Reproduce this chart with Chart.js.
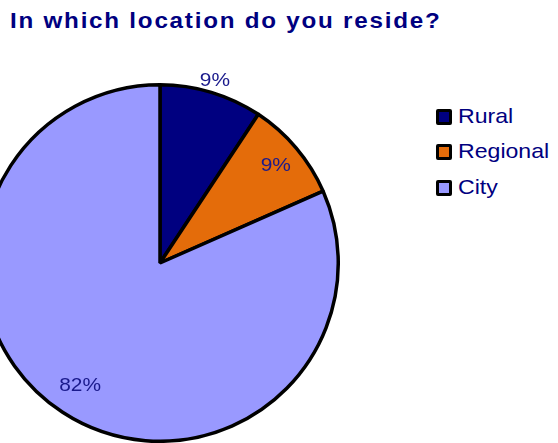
<!DOCTYPE html>
<html>
<head>
<meta charset="utf-8">
<script src="https://cdn.jsdelivr.net/npm/chart.js@4.4.0/dist/chart.umd.min.js"></script>
<style>
  html, body { margin: 0; padding: 0; width: 558px; height: 443px; overflow: hidden; background: #fff; }
  #title { position: absolute; left: 10px; top: 8px; font: bold 22px "Liberation Sans", Arial, sans-serif; color: #000080; letter-spacing: 1.6px; white-space: nowrap; transform: scaleX(1.1); transform-origin: left top; }
  #pieBox { position: absolute; left: -20px; top: 43px; width: 360px; height: 400px; }
  #legend { position: absolute; left: 436px; top: 98px; font: 21px "Liberation Sans", Arial, sans-serif; color: #000080; }
  #legend div { height: 35.5px; display: flex; align-items: center; white-space: nowrap; }
  #legend span.box { display: inline-block; width: 10px; height: 10px; border: 3px solid #000; border-radius: 2px; margin-right: 6px; margin-top: 2px; }
  #legend span.txt { display: inline-block; transform: scaleX(1.1); transform-origin: left center; }
</style>
</head>
<body>
<div id="title">In which location do you reside?</div>
<div id="pieBox"><canvas id="pie"></canvas></div>
<div id="legend"></div>
<script>
const categories = ['Rural', 'Regional', 'City'];
const shares = [9.3, 9.1, 81.6];
const pctLabels = ['9%', '9%', '82%'];
const sliceColors = ['#000080', '#E46C0A', '#9999FF'];

// label radius as fraction of pie radius (rural label sits just outside)
const labelRadius = [1.07, 0.85, 0.82];

const labelPlugin = {
    id: 'pctLabels',
    afterDatasetsDraw(chart) {
        const ctx = chart.ctx;
        const meta = chart.getDatasetMeta(0);
        ctx.save();
        ctx.font = '19px "Liberation Sans", Arial, sans-serif';
        ctx.fillStyle = '#1a1a8c';
        ctx.textAlign = 'center';
        ctx.textBaseline = 'middle';
        meta.data.forEach((arc, i) => {
            const mid = (arc.startAngle + arc.endAngle) / 2;
            const r = arc.outerRadius * labelRadius[i];
            ctx.save();
            ctx.translate(arc.x + Math.cos(mid) * r, arc.y + Math.sin(mid) * r);
            ctx.scale(1.1, 1);
            ctx.fillText(pctLabels[i], 0, 0);
            ctx.restore();
        });
        ctx.restore();
    }
};

new Chart(document.getElementById('pie'), {
    type: 'pie',
    data: {
        labels: categories,
        datasets: [{
            data: shares,
            backgroundColor: sliceColors,
            borderColor: '#000',
            borderWidth: 3.5,
            hoverOffset: 0
        }]
    },
    options: {
        responsive: true,
        maintainAspectRatio: false,
        animation: false,
        layout: { padding: { top: 40 } },
        plugins: {
            legend: { display: false },
            tooltip: { enabled: false }
        }
    },
    plugins: [labelPlugin]
});

const legend = document.getElementById('legend');
categories.forEach((name, i) => {
    const row = document.createElement('div');
    row.innerHTML = '<span class="box" style="background:' + sliceColors[i] + '"></span><span class="txt">' + name + '</span>';
    legend.appendChild(row);
});
</script>
</body>
</html>
